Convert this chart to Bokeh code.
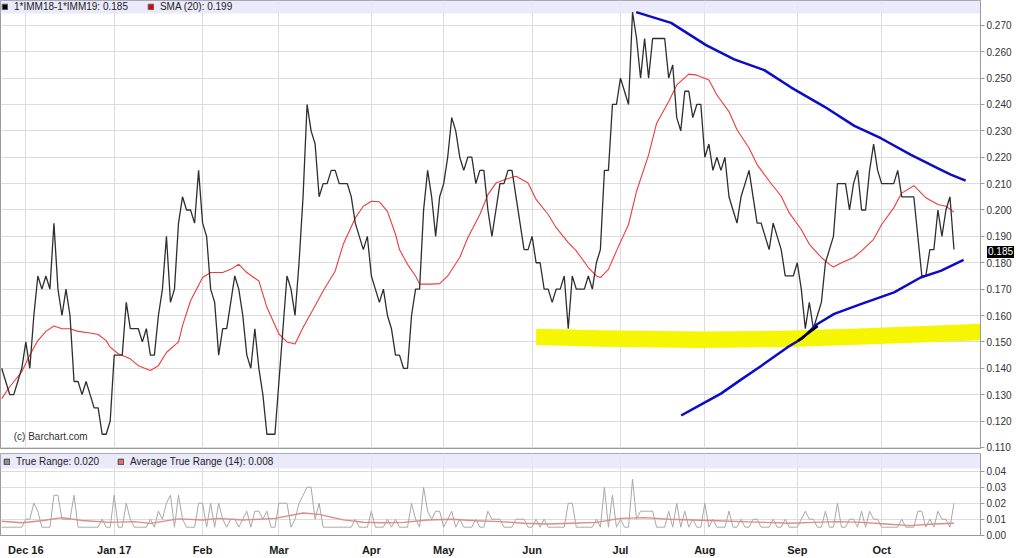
from bokeh.plotting import figure
from bokeh.layouts import column
from bokeh.models import (Range1d, FixedTicker, PrintfTickFormatter, BoxAnnotation,
                          Label, Legend, LegendItem, Div)
from bokeh.embed import file_html
from bokeh.resources import INLINE

# ---------------- data (trading-day index -> value) ----------------
price = [
    .140, .135, .130, .130, .135, .140, .150, .140, .160, .175,
    .170, .175, .170, .195, .170, .160, .170, .160, .135, .135,
    .130, .135, .130, .125, .125, .115, .115, .120, .145, .145,
    .145, .165, .155, .155, .155, .150, .155, .145, .145, .160,
    .170, .190, .165, .170, .195, .205, .200, .200, .195, .215,
    .195, .190, .170, .165, .145, .155, .155, .165, .175, .170,
    .160, .145, .140, .155, .140, .130, .115, .115, .115, .135,
    .155, .175, .170, .160, .180, .205, .240, .230, .225, .205,
    .210, .210, .215, .215, .210, .210, .210, .205, .195, .190,
    .185, .190, .175, .170, .165, .170, .160, .155, .145, .145,
    .140, .140, .160, .170, .170, .200, .215, .205, .190, .205,
    .210, .220, .235, .230, .220, .215, .220, .220, .210, .215,
    .215, .200, .190, .200, .210, .210, .215, .215, .205, .195,
    .185, .185, .190, .180, .180, .170, .170, .165, .170, .170,
    .175, .155, .175, .170, .170, .170, .175, .170, .180, .185,
    .215, .215, .240, .240, .250, .245, .240, .275, .265, .250,
    .265, .250, .265, .265, .265, .265, .250, .255, .235, .230,
    .245, .245, .235, .240, .240, .220, .225, .215, .220, .215,
    .220, .205, .200, .195, .205, .210, .215, .205, .195, .195,
    .190, .185, .195, .190, .185, .175, .175, .175, .180, .170,
    .155, .165, .155, .160, .165, .180, .185, .190, .210, .210,
    .210, .200, .210, .215, .200, .200, .215, .225, .215, .210,
    .210, .210, .210, .215, .205, .205, .205, .205, .190, .175,
    .175, .185, .185, .200, .190, .200, .205, .185,
]

sma_idx = [0, 2, 5, 7, 9, 11, 13, 15, 17, 19, 22, 24, 26, 27, 29, 32, 34, 37, 39, 41,
           44, 45, 47, 50, 52, 55, 57, 59, 61, 64, 66, 69, 71, 73, 75, 78, 80, 83, 85, 88,
           90, 92, 94, 96, 98, 99, 101, 103, 104, 107, 109, 111, 114, 116, 119, 121, 123, 126, 128, 131,
           133, 136, 138, 141, 143, 146, 148, 149, 151, 153, 156, 158, 161, 163, 166, 168, 171, 173, 176, 178,
           181, 183, 186, 188, 191, 194, 196, 199, 201, 204, 206, 207, 209, 212, 214, 217, 219, 222, 224, 227,
           228, 230, 233, 235, 237]
sma_val = [.1285, .1330, .1387, .1450, .1505, .1540, .1560, .1550, .1550, .1540,
           .1534, .1528, .1505, .1480, .1455, .1436, .1410, .1392, .1410, .1460,
           .1500, .1562, .1656, .1744, .1763, .1763, .1775, .1794, .1763, .1731,
           .1631, .1530, .1500, .1492, .1555, .1637, .1693, .1769, .1870, .1970,
           .2014, .2033, .2031, .1995, .1908, .1850, .1794, .1750, .1719, .1719,
           .1721, .1750, .1820, .1895, .1983, .2058, .2102, .2119, .2128, .2102,
           .2040, .1983, .1933, .1876, .1845, .1782, .1750, .1744, .1775, .1845,
           .1945, .2071, .2209, .2329, .2411, .2474, .2515, .2511, .2493, .2436,
           .2373, .2304, .2235, .2172, .2110, .2052, .1989, .1926, .1870, .1820,
           .1794, .1784, .1800, .1820, .1845, .1889, .1945, .2008, .2064, .2092,
           .2077, .2046, .2021, .2014, .1992]

true_range = [
    .005, .005, .005, .005, .005, .005, .010, .010, .020, .015,
    .005, .005, .005, .025, .025, .010, .010, .010, .025, .005,
    .005, .005, .005, .005, .005, .010, .005, .005, .025, .005,
    .005, .020, .010, .005, .005, .005, .005, .010, .005, .015,
    .010, .020, .025, .005, .025, .010, .005, .005, .005, .020,
    .020, .005, .020, .005, .020, .010, .005, .010, .010, .005,
    .010, .015, .005, .015, .015, .010, .015, .005, .005, .020,
    .020, .020, .005, .010, .020, .025, .030, .030, .010, .020,
    .005, .005, .005, .005, .005, .005, .005, .005, .010, .005,
    .005, .005, .015, .005, .005, .005, .010, .005, .010, .005,
    .005, .005, .020, .010, .005, .030, .015, .010, .015, .015,
    .005, .010, .015, .005, .010, .005, .005, .005, .010, .005,
    .005, .015, .010, .010, .010, .005, .005, .005, .010, .010,
    .010, .005, .005, .010, .005, .010, .005, .005, .005, .005,
    .005, .020, .020, .005, .005, .005, .005, .005, .010, .005,
    .030, .005, .025, .005, .010, .005, .005, .035, .010, .015,
    .015, .015, .015, .005, .005, .005, .015, .005, .020, .005,
    .015, .005, .010, .005, .005, .020, .005, .010, .005, .005,
    .005, .015, .005, .005, .010, .005, .005, .010, .010, .005,
    .005, .005, .010, .005, .005, .010, .005, .005, .005, .010,
    .015, .010, .010, .005, .005, .015, .005, .005, .020, .005,
    .005, .010, .010, .005, .015, .005, .015, .010, .010, .005,
    .005, .005, .005, .005, .010, .005, .005, .005, .015, .015,
    .005, .010, .005, .015, .010, .010, .005, .020,
]

atr_idx = [0, 5, 10, 15, 20, 27, 33, 37, 44, 50, 54, 60, 68, 75, 79, 85, 90, 95, 100, 106,
           112, 118, 124, 130, 136, 142, 148, 154, 160, 166, 172, 178, 184, 190, 196, 202, 208, 214, 220, 226,
           232, 237]
atr_val = [.0087, .0078, .0090, .0110, .0092, .0080, .0085, .0074, .0102, .0095,
           .0105, .0095, .0105, .0139, .0130, .0096, .0081, .0078, .0080, .0095,
           .0100, .0090, .0085, .0075, .0070, .0075, .0080, .0105, .0110, .0100,
           .0095, .0090, .0085, .0080, .0075, .0080, .0085, .0080, .0070, .0060,
           .0070, .0075]

# hand-drawn annotations (trading-day index, price)
upper_x = [157.9, 166.6, 175.3, 182.3, 189.8, 196.4, 204.7, 212.2, 218.8, 226.3, 232.9, 236.2, 239.9]
upper_y = [.2750, .2709, .2625, .2571, .2530, .2465, .2392, .2319, .2272, .2209, .2159, .2134, .2111]
lower_x = [169.1, 174.0, 179.0, 184.0, 189.0, 195.6, 199.3, 202.6, 207.2, 213.8, 222.1, 228.7, 233.7, 239.4]
lower_y = [.1221, .1262, .1304, .1357, .1409, .1480, .1514, .1564, .1606, .1643, .1688, .1744, .1769, .1811]
black_x = [198.2, 203.1]
black_y = [.1504, .1560]
hl_x = [133.0, 149.2, 174.0, 193.9, 211.3, 244.5]
hl_mid = [.1519, .1513, .1508, .1511, .1519, .1538]

month_idx = [6, 28, 50, 69, 92, 110, 132, 154, 175, 198, 219]
month_lbl = ["Dec 16", "Jan 17", "Feb", "Mar", "Apr", "May", "Jun", "Jul", "Aug", "Sep", "Oct"]
price_ticks = [0.110, 0.120, 0.130, 0.140, 0.150, 0.160, 0.170, 0.180, 0.190, 0.200,
               0.210, 0.220, 0.230, 0.240, 0.250, 0.260, 0.270]
tr_ticks = [0.00, 0.01, 0.02, 0.03, 0.04]
last_price = 0.185

# ---------------- styling ----------------
FONT = "Liberation Sans"
W = 1016
RB = 36
H1, B1 = 453, 5
Y0, Y1 = 0.1096, 0.2794
GRID = "#dcdcdc"
BAND = "#e6e6fa"
X0, X1 = -0.3, 243.6
xs = list(range(len(price)))

p = figure(width=W, height=H1, x_range=Range1d(X0, X1), y_range=Range1d(Y0, Y1),
           output_backend="svg", toolbar_location=None, y_axis_location="right",
           min_border_left=0, min_border_right=RB, min_border_top=0, min_border_bottom=B1,
           background_fill_color="white", border_fill_color="white")
p.xaxis.visible = False
p.xgrid.ticker = FixedTicker(ticks=month_idx)
p.ygrid.ticker = FixedTicker(ticks=price_ticks)
p.grid.grid_line_color = GRID
p.outline_line_color = "#9a9a9a"
ya = p.yaxis[0]
ya.ticker = FixedTicker(ticks=price_ticks)
ya.formatter = PrintfTickFormatter(format="%.3f")
ya.major_label_text_font = FONT
ya.major_label_text_font_size = "10px"
ya.major_label_text_color = "#333333"
ya.axis_line_color = "#9a9a9a"
ya.major_tick_line_color = "#9a9a9a"
ya.major_tick_out = 4
ya.major_tick_in = 0
ya.minor_tick_line_color = None
ya.major_label_standoff = 2

p.add_layout(BoxAnnotation(bottom=0.2745, fill_color=BAND, fill_alpha=0.85,
                           line_color=None, level="underlay"))

p.varea(x=hl_x, y1=[m - 0.0031 for m in hl_mid], y2=[m + 0.0031 for m in hl_mid],
        fill_color="#f6f600", fill_alpha=1.0)
p.line(sma_idx, sma_val, line_color="#f03a3a", line_width=1.1)
p.line(xs, price, line_color="#2e2e2e", line_width=1.3)
p.line(upper_x, upper_y, line_color="#0c0cc8", line_width=2.5)
p.line(lower_x, lower_y, line_color="#0c0cc8", line_width=2.5)
p.line(black_x, black_y, line_color="#000000", line_width=2.5)

sq1 = p.quad(left=[-100], right=[-99], bottom=[0.0], top=[0.01], fill_color="#000000", line_color="#666666")
sq2 = p.quad(left=[-100], right=[-99], bottom=[0.0], top=[0.01], fill_color="#e00000", line_color="#666666")
leg = Legend(items=[LegendItem(label="1*IMM18-1*IMM19: 0.185", renderers=[sq1]),
                    LegendItem(label="SMA (20): 0.199", renderers=[sq2])],
             location="top_left", orientation="horizontal",
             background_fill_alpha=0, border_line_color=None,
             label_text_font=FONT, label_text_font_size="10px", label_text_color="#222222",
             glyph_width=7, glyph_height=7, label_height=11, label_standoff=6,
             spacing=19, padding=0, margin=1)
p.add_layout(leg)

p.add_layout(Label(x=3, y=0.1143, text="(c) Barchart.com", text_font=FONT,
                   text_font_size="10px", text_color="#333333", text_baseline="middle"))

# last-price tag sitting on the right price axis (positioned from the y mapping)
frame_h = H1 - B1
tag_top = (Y1 - last_price) / (Y1 - Y0) * frame_h - 8
frame_w = W - RB
tag = Div(text="%.3f" % last_price,
          styles={"position": "absolute", "left": "%dpx" % (frame_w + 2), "top": "%dpx" % round(tag_top),
                  "background-color": "black", "color": "white", "font-family": FONT,
                  "font-size": "10px", "line-height": "12px", "padding": "0px 1px",
                  "z-index": "20"})

# ---------------- lower panel ----------------
q = figure(width=W, height=105, x_range=p.x_range, y_range=Range1d(-0.0002, 0.0511),
           output_backend="svg", toolbar_location=None, y_axis_location="right",
           min_border_left=0, min_border_right=RB, min_border_top=0,
           background_fill_color="white", border_fill_color="white")
q.xgrid.ticker = FixedTicker(ticks=month_idx)
q.ygrid.ticker = FixedTicker(ticks=tr_ticks)
q.grid.grid_line_color = GRID
q.outline_line_color = "#9a9a9a"
qa = q.yaxis[0]
qa.ticker = FixedTicker(ticks=tr_ticks)
qa.formatter = PrintfTickFormatter(format="%.2f")
qa.major_label_text_font = FONT
qa.major_label_text_font_size = "10px"
qa.major_label_text_color = "#333333"
qa.axis_line_color = "#9a9a9a"
qa.major_tick_line_color = "#9a9a9a"
qa.major_tick_out = 4
qa.major_tick_in = 0
qa.minor_tick_line_color = None
qa.major_label_standoff = 2
xa = q.xaxis[0]
xa.ticker = FixedTicker(ticks=month_idx)
xa.major_label_overrides = {i: s for i, s in zip(month_idx, month_lbl)}
xa.major_label_text_font = FONT
xa.major_label_text_font_size = "11px"
xa.major_label_text_font_style = "bold"
xa.major_label_text_color = "#1a1a1a"
xa.major_tick_line_color = None
xa.minor_tick_line_color = None
xa.axis_line_color = "#9a9a9a"
xa.major_label_standoff = 2

q.add_layout(BoxAnnotation(bottom=0.0417, fill_color=BAND, fill_alpha=0.85,
                           line_color=None, level="underlay"))
q.line(xs, true_range, line_color="#a8a8a8", line_width=1.0)
q.line(atr_idx, atr_val, line_color="#e08a8a", line_width=1.4)

s1 = q.quad(left=[-100], right=[-99], bottom=[-1.0], top=[-0.9], fill_color="#909090", line_color="#444444")
s2 = q.quad(left=[-100], right=[-99], bottom=[-1.0], top=[-0.9], fill_color="#e07070", line_color="#444444")
leg2 = Legend(items=[LegendItem(label="True Range: 0.020", renderers=[s1]),
                     LegendItem(label="Average True Range (14): 0.008", renderers=[s2])],
              location="top_left", orientation="horizontal",
              background_fill_alpha=0, border_line_color=None,
              label_text_font=FONT, label_text_font_size="10px", label_text_color="#222222",
              glyph_width=7, glyph_height=7, label_height=11, label_standoff=6,
              spacing=18, padding=0, margin=3)
q.add_layout(leg2)

layout = column(p, q, tag, spacing=0)
open("out.html", "w").write(file_html(layout, INLINE))
